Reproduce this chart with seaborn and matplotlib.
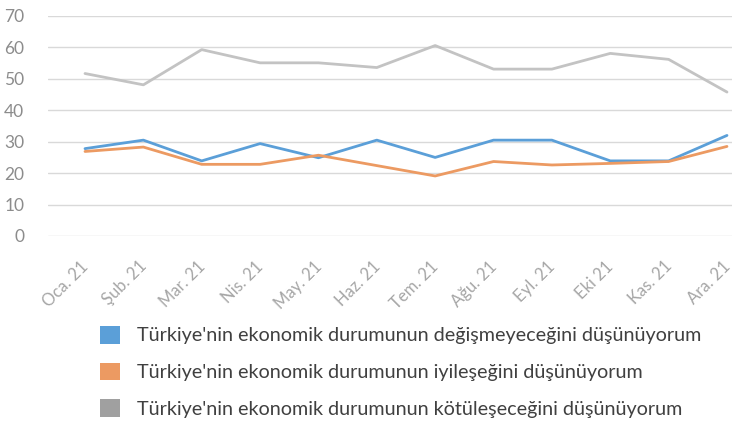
import numpy as np
import pandas as pd
import seaborn as sns
import matplotlib.pyplot as plt
import matplotlib.transforms as mtransforms
from matplotlib.patches import Patch

months = ['Oca. 21', 'Şub. 21', 'Mar. 21', 'Nis. 21', 'May. 21', 'Haz. 21',
          'Tem. 21', 'Ağu. 21', 'Eyl. 21', 'Eki 21', 'Kas. 21', 'Ara. 21']
degismeyecek = [27.8, 30.5, 23.9, 29.4, 24.9, 30.5, 25.0, 30.5, 30.5, 23.9, 23.9, 32.0]
iyilesecek   = [26.9, 28.3, 22.8, 22.8, 25.7, 22.4, 19.1, 23.7, 22.6, 23.1, 23.7, 28.5]
kotulesecek  = [51.7, 48.1, 59.3, 55.1, 55.1, 53.6, 60.6, 53.1, 53.1, 58.1, 56.2, 45.8]
series_names = ["Türkiye'nin ekonomik durumunun değişmeyeceğini düşünüyorum",
                "Türkiye'nin ekonomik durumunun iyileşeğini düşünüyorum",
                "Türkiye'nin ekonomik durumunun kötüleşeceğini düşünüyorum"]
line_colors  = ['#5B9FD8', '#EC9A62', '#C3C3C3']
legend_colors = ['#5B9FD8', '#EC9A62', '#A0A0A0']

frames = []
for name, vals in zip(series_names, [degismeyecek, iyilesecek, kotulesecek]):
    frames.append(pd.DataFrame({'ay': months, 'deger': vals, 'seri': name}))
df = pd.concat(frames, ignore_index=True)

sns.set_theme(style='white')
plt.rcParams['font.family'] = ['Lato', 'DejaVu Sans']

fig = plt.figure(figsize=(7.32, 4.22), dpi=100)
ax = fig.add_axes([48/732, 1 - 236/422, 684/732, 220/422])

sns.lineplot(data=df, x='ay', y='deger', hue='seri', palette=line_colors,
             linewidth=2.0, legend=False, ax=ax, sort=False)

ax.set_ylim(0, 70)
ax.set_xlim(-0.634, 11.086)
ax.set_yticks(range(0, 71, 10))
ax.yaxis.grid(True, color='#D9D9D9', linewidth=1.0)
ax.set_axisbelow(True)
for s in ax.spines.values():
    s.set_visible(False)
ax.set_xlabel('')
ax.set_ylabel('')
ax.tick_params(axis='y', length=0, pad=17, labelsize=12.5, labelcolor='#8C8C8C')
ax.tick_params(axis='x', length=0, pad=16, labelsize=12, labelcolor='#A6A6A6')
ax.set_xticks(range(len(months)))
ax.set_xticklabels(months, rotation=45, ha='right', rotation_mode='anchor')
offset = mtransforms.ScaledTranslation(-5/100, 0, fig.dpi_scale_trans)
for lbl in ax.get_xticklabels():
    lbl.set_transform(lbl.get_transform() + offset)

handles = [Patch(facecolor=c, edgecolor='none') for c in legend_colors]
fig.legend(handles, series_names, loc='upper left', bbox_to_anchor=(92/732, 1 - 318/422),
           frameon=False, fontsize=14.2, labelcolor='#404040', handlelength=1.0,
           handleheight=1.0, handletextpad=0.9, labelspacing=0.92, borderaxespad=0)

fig.savefig('out.png', dpi=100)
